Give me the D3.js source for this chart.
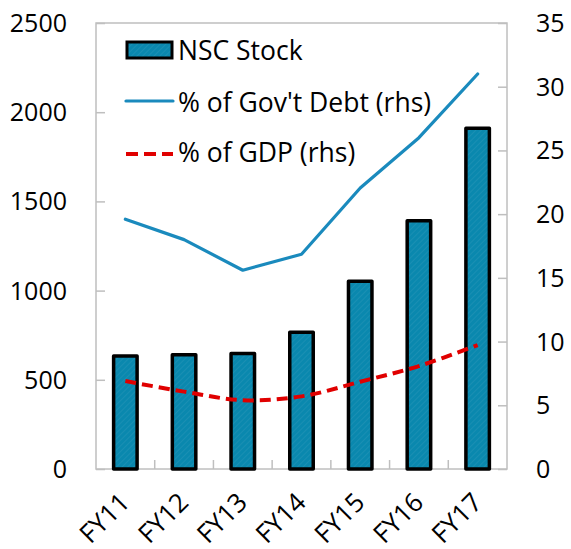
<!DOCTYPE html>
<html>
<head>
<meta charset="utf-8">
<script src="https://cdn.jsdelivr.net/npm/d3@7"></script>
<style>
  html, body { margin: 0; padding: 0; background: #fff; }
  svg { display: block; font-family: "Open Sans", sans-serif; }
</style>
</head>
<body>
<svg id="chart" width="571" height="549"></svg>
<script>
const categories = ["FY11", "FY12", "FY13", "FY14", "FY15", "FY16", "FY17"];
const nscStock = [633, 641, 648, 766, 1052, 1392, 1910];
const pctGovDebt = [19.6, 18.0, 15.6, 16.85, 22.05, 26.0, 31.0];
const pctGDP = [6.9, 6.07, 5.4, 5.7, 6.85, 8.08, 9.73];
const leftTicks = [0, 500, 1000, 1500, 2000, 2500];
const rightTicks = [0, 5, 10, 15, 20, 25, 30, 35];
const legendLabels = ["NSC Stock", "% of Gov't Debt (rhs)", "% of GDP (rhs)"];

const svg = d3.select("#chart");
const plot = { left: 96, right: 507, top: 23, bottom: 469 };
const axisColor = "#BFBFBF";
const barColor = "#0A88AE";
const lineColor = "#1A8ABD";
const redColor = "#E00000";

const x = d3.scaleBand().domain(categories).range([plot.left, plot.right]).padding(0);
const yL = d3.scaleLinear().domain([0, 2500]).range([plot.bottom, plot.top]);
const yR = d3.scaleLinear().domain([0, 35]).range([plot.bottom, plot.top]);

// hatch pattern for bars
const defs = svg.append("defs");
const pat = defs.append("pattern").attr("id", "hatch").attr("patternUnits", "userSpaceOnUse")
  .attr("width", 4).attr("height", 4).attr("patternTransform", "rotate(45)");
pat.append("rect").attr("width", 4).attr("height", 4).attr("fill", barColor);
pat.append("line").attr("x1", 0).attr("y1", 0).attr("x2", 0).attr("y2", 4)
  .attr("stroke", "#2A97B9").attr("stroke-width", 1);

// plot frame
svg.append("rect").attr("x", plot.left).attr("y", plot.top)
  .attr("width", plot.right - plot.left).attr("height", plot.bottom - plot.top)
  .attr("fill", "none").attr("stroke", axisColor).attr("stroke-width", 1.5);

// left axis
const gL = svg.append("g").attr("transform", `translate(${plot.left},0)`)
  .call(d3.axisRight(yL).tickValues(leftTicks).tickSize(9).tickFormat(""));
gL.select(".domain").remove();
gL.selectAll("line").attr("stroke", axisColor).attr("stroke-width", 1.5);
svg.append("g").selectAll("text").data(leftTicks).join("text")
  .attr("x", 67).attr("y", d => yL(d)).attr("dy", "0.36em")
  .attr("text-anchor", "end").attr("font-size", 25).attr("fill", "#000").text(d => d);

// right axis
const gR = svg.append("g").attr("transform", `translate(${plot.right},0)`)
  .call(d3.axisLeft(yR).tickValues(rightTicks).tickSize(9).tickFormat(""));
gR.select(".domain").remove();
gR.selectAll("line").attr("stroke", axisColor).attr("stroke-width", 1.5);
svg.append("g").selectAll("text").data(rightTicks).join("text")
  .attr("x", 536).attr("y", d => yR(d)).attr("dy", "0.36em")
  .attr("text-anchor", "start").attr("font-size", 25).attr("fill", "#000").text(d => d);

// bottom category ticks (between categories)
const gB = svg.append("g");
gB.selectAll("line").data(categories.slice(1)).join("line")
  .attr("x1", d => x(d)).attr("x2", d => x(d))
  .attr("y1", plot.bottom).attr("y2", plot.bottom - 9)
  .attr("stroke", axisColor).attr("stroke-width", 1.5);

// bars
const bw = x.bandwidth() * 0.4;
svg.append("g").selectAll("rect").data(categories).join("rect")
  .attr("x", d => x(d) + x.bandwidth() / 2 - bw / 2)
  .attr("y", (d, i) => yL(nscStock[i]))
  .attr("width", bw)
  .attr("height", (d, i) => yL(0) - yL(nscStock[i]))
  .attr("fill", "url(#hatch)")
  .attr("stroke", "#000").attr("stroke-width", 3.5).attr("stroke-linejoin", "round");

// x labels
svg.append("g").selectAll("text").data(categories).join("text")
  .attr("transform", d => `translate(${x(d) + x.bandwidth() / 2 + 6},504) rotate(-45)`)
  .attr("text-anchor", "end").attr("font-size", 26).attr("fill", "#000").text(d => d);

const cx = d => x(d) + x.bandwidth() / 2;

// gov debt line
svg.append("path")
  .datum(categories.map((c, i) => [cx(c), yR(pctGovDebt[i])]))
  .attr("d", d3.line())
  .attr("fill", "none").attr("stroke", lineColor).attr("stroke-width", 3.2)
  .attr("stroke-linejoin", "round").attr("stroke-linecap", "round");

// GDP dashed smoothed line
svg.append("path")
  .datum(categories.map((c, i) => [cx(c), yR(pctGDP[i])]))
  .attr("d", d3.line().curve(d3.curveCatmullRom.alpha(0.5)))
  .attr("fill", "none").attr("stroke", redColor).attr("stroke-width", 4)
  .attr("stroke-dasharray", "11,6");

// legend
const lg = svg.append("g");
lg.append("rect").attr("x", 127).attr("y", 42).attr("width", 45).attr("height", 16)
  .attr("fill", "url(#hatch)").attr("stroke", "#000").attr("stroke-width", 3);
lg.append("line").attr("x1", 126).attr("x2", 173).attr("y1", 101).attr("y2", 101)
  .attr("stroke", lineColor).attr("stroke-width", 3.2).attr("stroke-linecap", "round");
lg.append("line").attr("x1", 126).attr("x2", 173).attr("y1", 154).attr("y2", 154)
  .attr("stroke", redColor).attr("stroke-width", 4).attr("stroke-dasharray", "12,6");
lg.selectAll("text").data(legendLabels).join("text")
  .attr("x", 178).attr("y", (d, i) => [59.5, 111.5, 161.5][i])
  .attr("font-size", 26.5).attr("fill", "#000").text(d => d);
</script>
</body>
</html>
